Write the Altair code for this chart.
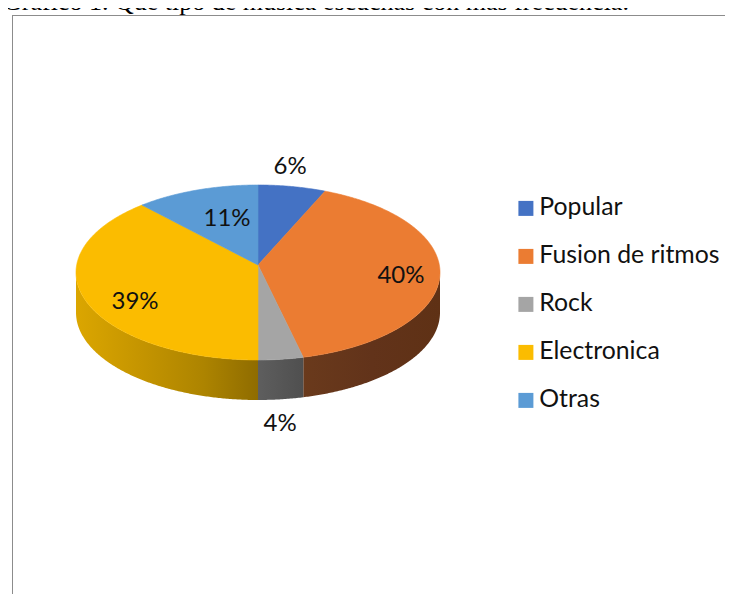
import math
import altair as alt
import pandas as pd

categories = ["Popular", "Fusion de ritmos", "Rock", "Electronica", "Otras"]
shares = [6, 40, 4, 39, 11]
colors = ["#4472C4", "#EB7C32", "#A5A5A5", "#FBBC00", "#5B9BD5"]
title_text = "Gráfico 1. Qué tipo de música escuchas con más frecuencia."

# label placement, as multiples of the radius along each slice's mid-angle
label_rx = [0.94, 0.787, 0.967, 0.718, 0.503]
label_ry = [1.228, 0.637, 1.745, 0.995, 0.65]

RX, RY = 182.0, 87.5
APEX = 7.5 / RY
DEPTH = 40.0 / RY
W, H = 717, 586
x_scale = alt.Scale(domain=[-250 / RX, 467 / RX], range=[0, W], nice=False, zero=False)
y_scale = alt.Scale(domain=[-(586 - 264.5) / RY, 264.5 / RY], range=[H, 0], nice=False, zero=False)
NOX = alt.X("x:Q", scale=x_scale, axis=None)
NOY = alt.Y("y:Q", scale=y_scale, axis=None)


def arc(t0, t1):
    n = max(2, int(abs(t1 - t0) * 2))
    return [t0 + (t1 - t0) * i / n for i in range(n + 1)]


rows, labels = [], []
start = 0.0
bounds = []
for name, share, lx, ly in zip(categories, shares, label_rx, label_ry):
    a0, a1 = start * 3.6, (start + share) * 3.6
    bounds.append((name, a0, a1))
    pts = [(0.0, APEX)] + [(math.sin(math.radians(t)), math.cos(math.radians(t))) for t in arc(a0, a1)] + [(0.0, APEX)]
    for i, (px, py) in enumerate(pts):
        rows.append({"name": name, "i": i, "x": px, "y": py})
    mid = math.radians((a0 + a1) / 2)
    labels.append({"x": math.sin(mid) * lx, "y": math.cos(mid) * ly, "t": f"{share}%"})
    start += share

color_scale = alt.Scale(domain=categories, range=colors)
top = (
    alt.Chart(pd.DataFrame(rows))
    .mark_line(strokeWidth=0.6, interpolate="linear")
    .encode(
        x=NOX,
        y=NOY,
        order="i:Q",
        detail="name:N",
        stroke=alt.Stroke("name:N", scale=color_scale, legend=None),
        fill=alt.Fill(
            "name:N",
            scale=color_scale,
            sort=categories,
            legend=alt.Legend(
                title=None,
                orient="none",
                legendX=505.5,
                legendY=188,
                symbolType="square",
                symbolSize=225,
                symbolStrokeWidth=0,
                symbolOpacity=1,
                labelFont="Lato",
                labelFontSize=24.8,
                labelColor="#111111",
                labelLimit=300,
                labelOffset=1,
                rowPadding=22,
            ),
        ),
    )
)

side_fill = {
    "Fusion de ritmos": alt.Gradient(gradient="linear", x1=0, x2=1, y1=0, y2=0,
                                     stops=[alt.GradientStop(color="#6a3a1c", offset=0),
                                            alt.GradientStop(color="#62331a", offset=0.5),
                                            alt.GradientStop(color="#5f3115", offset=1)]),
    "Rock": alt.Gradient(gradient="linear", x1=0, x2=1, y1=0, y2=0,
                         stops=[alt.GradientStop(color="#5e5e5e", offset=0),
                                alt.GradientStop(color="#4f4f4f", offset=1)]),
    "Electronica": alt.Gradient(gradient="linear", x1=0, x2=1, y1=0, y2=0,
                                stops=[alt.GradientStop(color="#dba600", offset=0),
                                       alt.GradientStop(color="#c59500", offset=0.35),
                                       alt.GradientStop(color="#ad8400", offset=0.7),
                                       alt.GradientStop(color="#8f6c00", offset=1)]),
}
sides = []
for name, a0, a1 in bounds:
    lo, hi = max(a0, 90.0), min(a1, 270.0)
    if name not in side_fill or lo >= hi:
        continue
    recs = [{"x": math.sin(math.radians(t)), "y": math.cos(math.radians(t)),
             "y2": math.cos(math.radians(t)) - DEPTH} for t in arc(lo, hi)]
    recs.sort(key=lambda r: r["x"])
    sides.append(
        alt.Chart(pd.DataFrame(recs))
        .mark_area(fill=side_fill[name], interpolate="linear")
        .encode(x=NOX, y=NOY, y2="y2:Q")
    )

text = (
    alt.Chart(pd.DataFrame(labels))
    .mark_text(font="Lato", fontSize=24, color="#111111", align="center", baseline="middle")
    .encode(x=NOX, y=NOY, text="t:N")
)

frame_top = alt.Chart(pd.DataFrame({"a": [0]})).mark_rule(color="#8c8c8c", strokeWidth=1).encode(
    x=alt.value(4), x2=alt.value(W), y=alt.value(7.5))
frame_left = alt.Chart(pd.DataFrame({"a": [0]})).mark_rule(color="#8c8c8c", strokeWidth=1).encode(
    x=alt.value(4.5), y=alt.value(7.5), y2=alt.value(H))
title = alt.Chart(pd.DataFrame({"t": [title_text]})).mark_text(
    font="Liberation Serif", fontSize=26, color="#000000", align="left", baseline="alphabetic"
).encode(x=alt.value(-5), y=alt.value(2), text="t:N")

chart = (
    alt.layer(frame_top, frame_left, title, *sides, top, text)
    .resolve_scale(x="shared", y="shared")
    .properties(width=W, height=H, autosize=alt.AutoSizeParams(type="none"), padding=0, background="white")
    .configure_view(stroke=None)
)

chart.save("out.html", embed_options={"renderer": "svg", "actions": False})
